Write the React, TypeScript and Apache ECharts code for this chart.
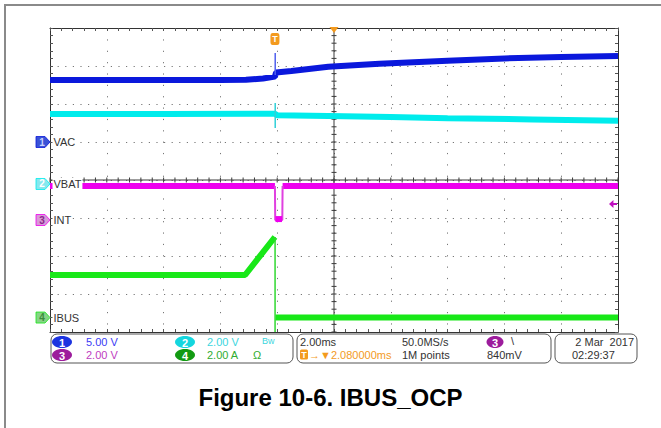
import React, { useEffect, useRef } from 'react';
import * as echarts from 'echarts';

// Time axis: 10 divisions x 2.00 ms/div, measured from the left edge of the screen (ms)
const TIME_MIN = 0;
const TIME_MAX = 20;
const TIME_DIV = 2;
const TRIGGER_T = 7.92; // trigger point (2.080000 ms before screen centre)
const CENTER_T = 10;

// Channel settings (scale per division, names)
const channelNames = ['VAC', 'VBAT', 'INT', 'IBUS'];
const channelScales = [5, 2, 2, 2]; // 5.00 V, 2.00 V, 2.00 V, 2.00 A per div
const trigLevel = 0.84; // 840 mV on channel 3

// CH1 VAC (V)
const ch1Vac: (number | string)[][] = [
  [0, 8.15], [2, 8.15], [4, 8.15], [6, 8.15], [6.9, 8.2], [7.5, 8.35], [7.92, 8.6],
  [7.96, 9.15], [8.5, 9.35], [9.8, 9.9], [11.6, 10.3], [14, 10.7], [16, 11.0], [18, 11.2], [20, 11.3],
];
const ch1Spike: number[][] = [[7.93, 8.8], [7.93, 11.7]];

// CH2 VBAT (V)
const ch2Vbat: number[][] = [
  [0, 3.68], [4, 3.68], [7.92, 3.7], [8.0, 3.62], [9.8, 3.58], [12, 3.52], [14, 3.46], [17, 3.4], [20, 3.33],
];
const ch2Spike: number[][] = [[7.93, 2.95], [7.93, 4.26]];

// CH3 INT (V)
const ch3Int: (number | string)[][] = [[0, 1.79], [7.92, 1.79], [8.0, '-'], [8.19, 1.79], [20, 1.79]];
const ch3PulseEdges: number[][] = [[7.92, 1.79], [7.93, 0], [8.18, 0], [8.19, 1.79]];
const ch3PulseLow: number[][] = [[7.94, 0.05], [8.17, 0.05]];

// CH4 IBUS (A)
const ch4Ibus: (number | string)[][] = [[0, 2.24], [6.87, 2.24], [7.92, 4.24], [7.925, '-'], [7.94, 0], [20, 0]];
const ch4Drop: number[][] = [[7.925, 4.24], [7.925, -0.76]];

// Readout texts
const readoutScales = ['5.00 V', '2.00 V', '2.00 V', '2.00 A'];
const timebaseText = '2.00ms';
const sampleRateText = '50.0MS/s';
const delayText = '→▼2.080000ms';
const pointsText = '1M points';
const trigLevelText = '840mV';
const dateText = '2 Mar  2017';
const timeText = '02:29:37';
const titleText = 'Figure 10-6. IBUS_OCP';

// Layout / styling
const GRID = { left: 50, top: 28, width: 568, height: 304 };
const groundDivs = [5, 3.895, 2.947, 0.38]; // ground marker positions, divisions from bottom
const traceColors = ['#0a18dc', '#00ecec', '#ee00ee', '#18e818'];
const markerFill = ['#3a52d6', '#86e8ee', '#d898d8', '#86d486'];
const markerText = ['#c8d2ff', '#ffffff', '#8a2a8a', '#3c8c3c'];
const badgeFill = ['#1c34e0', '#14d6de', '#9c1c9c', '#129a12'];
const readoutColors = ['#3b3bf5', '#3cd6de', '#c03cc0', '#30ac30'];
const ORANGE = '#f39a1e';
const FONT = '"Liberation Sans", Arial, sans-serif';

const pentagon = 'path://M0,0 L9,0 L14,5.5 L9,11 L0,11 Z';

// graticule: centre crosshair lines and their minor ticks (kind, position)
const graticule: number[][] = [[2, CENTER_T], [3, 4]];
for (let i = 0; i <= 50; i++) graticule.push([0, (i * TIME_DIV) / 5]);
for (let j = 0; j <= 40; j++) graticule.push([1, j / 5]);

function chAxis(i: number) {
  const s = channelScales[i];
  return {
    type: 'value', show: false, min: -groundDivs[i] * s, max: (8 - groundDivs[i]) * s,
    axisLine: { onZero: false },
  };
}

function chMarkers(i: number) {
  return [
    {
      coord: [TIME_MIN, 0], symbol: pentagon, symbolSize: [14, 11], symbolOffset: [-7, 0],
      itemStyle: { color: markerFill[i], borderColor: traceColors[i], borderWidth: 0.8 },
      label: { show: true, position: 'inside', formatter: String(i + 1), color: markerText[i], fontSize: 10, fontWeight: 'bold', fontFamily: FONT, offset: [-1, 0] },
    },
    {
      coord: [TIME_MIN, 0], symbol: 'rect', symbolSize: 1, itemStyle: { color: 'rgba(0,0,0,0)' },
      label: { show: true, position: 'right', distance: 2, formatter: channelNames[i], color: '#333', fontSize: 11, fontFamily: FONT, backgroundColor: '#fff', padding: [1, 1, 0, 1] },
    },
  ];
}

function lineSeries(name: string, data: any[], yIdx: number, color: string, width: number, extra: any = {}) {
  return {
    name, type: 'line', data, xAxisIndex: 0, yAxisIndex: yIdx, showSymbol: false, symbol: 'none',
    lineStyle: { color, width, cap: 'butt' }, silent: true, connectNulls: false, z: 3, ...extra,
  };
}

const borderAxisCommon = {
  axisLabel: { show: false },
  axisLine: { show: true, onZero: false, lineStyle: { color: '#333', width: 1 } },
  axisTick: { show: true, inside: true, length: 3, lineStyle: { color: '#555' } },
  minorTick: { show: true, splitNumber: 5, length: 3, lineStyle: { color: '#555' } },
};

export default function App() {
  const ref = useRef<HTMLDivElement>(null);
  useEffect(() => {
    if (!ref.current) return;
    const chart = echarts.init(ref.current, undefined, { renderer: 'svg' });

    const readoutText = (text: string, x: number, y: number, fill: string, extra: any = {}) => ({
      type: 'text', z: 10, style: { text, x, y, fill, fontSize: 11, fontFamily: FONT, verticalAlign: 'middle', ...extra },
    });
    const badge = (n: number, cx: number, cy: number, rx: number) => ([
      { type: 'ellipse', z: 10, shape: { cx, cy, rx, ry: 6 }, style: { fill: badgeFill[n - 1] } },
      { type: 'text', z: 11, style: { text: String(n), x: cx, y: cy + 0.5, align: 'center', verticalAlign: 'middle', fill: '#fff', fontSize: 11, fontWeight: 'bold', fontFamily: FONT } },
    ]);

    const option: any = {
      animation: false,
      backgroundColor: '#fff',
      title: {
        text: titleText, left: 'center', top: 380,
        textStyle: { fontSize: 24, fontWeight: 'bold', color: '#000', fontFamily: FONT },
      },
      grid: { ...GRID, containLabel: false },
      xAxis: [
        {
          type: 'value', min: TIME_MIN, max: TIME_MAX, interval: TIME_DIV, position: 'bottom', ...borderAxisCommon,
          splitLine: { show: true, lineStyle: { color: '#777', width: 1, type: [1.2, 10.16] } },
        },
        { type: 'value', min: TIME_MIN, max: TIME_MAX, interval: TIME_DIV, position: 'top', ...borderAxisCommon, splitLine: { show: false } },
      ],
      yAxis: [
        {
          type: 'value', min: 0, max: 8, interval: 1, position: 'left', ...borderAxisCommon,
          splitLine: { show: true, lineStyle: { color: '#777', width: 1, type: [1.2, 6.4] } },
        },
        { type: 'value', min: 0, max: 8, interval: 1, position: 'right', ...borderAxisCommon, splitLine: { show: false } },
        chAxis(0), chAxis(1), chAxis(2), chAxis(3),
      ],
      series: [
        {
          name: 'graticule', type: 'custom', xAxisIndex: 0, yAxisIndex: 0, silent: true, z: 1,
          data: graticule, encode: { x: -1, y: -1 },
          renderItem: (params: any, api: any) => {
            const kind = api.value(0);
            const pos = api.value(1);
            const st = { stroke: '#3a3a3a', lineWidth: 1 };
            if (kind === 0) {
              const p = api.coord([pos, 4]);
              return { type: 'line', shape: { x1: p[0], y1: p[1] - 2.5, x2: p[0], y2: p[1] + 2.5 }, style: st };
            }
            if (kind === 1) {
              const p = api.coord([CENTER_T, pos]);
              return { type: 'line', shape: { x1: p[0] - 2.5, y1: p[1], x2: p[0] + 2.5, y2: p[1] }, style: st };
            }
            if (kind === 2) {
              const a = api.coord([pos, 0]);
              const b = api.coord([pos, 8]);
              return { type: 'line', shape: { x1: a[0], y1: a[1], x2: b[0], y2: b[1] }, style: st };
            }
            const a = api.coord([TIME_MIN, pos]);
            const b = api.coord([TIME_MAX, pos]);
            return { type: 'line', shape: { x1: a[0], y1: a[1], x2: b[0], y2: b[1] }, style: st };
          },
        },
        lineSeries('VAC', ch1Vac, 2, traceColors[0], 6, {
          markPoint: {
            silent: true, animation: false,
            data: [
              ...chMarkers(0),
              {
                coord: [TRIGGER_T, (8 - groundDivs[0]) * channelScales[0]], symbol: 'roundRect', symbolSize: [9, 12], symbolOffset: [0, 11],
                itemStyle: { color: ORANGE },
                label: { show: true, position: 'inside', formatter: 'T', color: '#fff', fontSize: 9, fontWeight: 'bold', fontFamily: FONT },
              },
              {
                coord: [CENTER_T, (8 - groundDivs[0]) * channelScales[0]], symbol: 'path://M0,0 L10,0 L5,7 Z', symbolSize: [9, 6], symbolOffset: [0, 2],
                itemStyle: { color: ORANGE }, label: { show: false },
              },
            ],
          },
        }),
        lineSeries('VAC spike', ch1Spike, 2, '#5060ee', 1.5),
        lineSeries('VBAT', ch2Vbat, 3, traceColors[1], 6, { markPoint: { silent: true, animation: false, data: chMarkers(1) } }),
        lineSeries('VBAT spike', ch2Spike, 3, '#30d0d8', 1.5),
        lineSeries('INT', ch3Int, 4, traceColors[2], 6, {
          markPoint: {
            silent: true, animation: false,
            data: [
              ...chMarkers(2),
              {
                coord: [TIME_MAX, trigLevel], symbol: 'path://M0,4 L5,0 L5,3 L9,3 L9,5 L5,5 L5,8 Z', symbolSize: [8, 8], symbolOffset: [-5, 0],
                itemStyle: { color: '#c010c0' }, label: { show: false },
              },
            ],
          },
        }),
        lineSeries('INT pulse', ch3PulseEdges, 4, '#e040e0', 2),
        lineSeries('INT low', ch3PulseLow, 4, traceColors[2], 6),
        lineSeries('IBUS', ch4Ibus, 5, traceColors[3], 6, { markPoint: { silent: true, animation: false, data: chMarkers(3) } }),
        lineSeries('IBUS drop', ch4Drop, 5, '#30d830', 1.5),
      ],
      graphic: [
        { type: 'rect', z: 0, shape: { x: 5, y: 5, width: 700, height: 480 }, style: { fill: 'none', stroke: '#8a8a8a', lineWidth: 2 } },
        { type: 'rect', z: 9, shape: { x: 51, y: 334, width: 242, height: 29, r: 6 }, style: { fill: '#fff', stroke: '#555', lineWidth: 1 } },
        { type: 'rect', z: 9, shape: { x: 297, y: 334, width: 254, height: 29, r: 6 }, style: { fill: '#fff', stroke: '#555', lineWidth: 1 } },
        { type: 'rect', z: 9, shape: { x: 555, y: 334, width: 82, height: 29, r: 6 }, style: { fill: '#fff', stroke: '#555', lineWidth: 1 } },
        ...badge(1, 62, 342, 10),
        readoutText(readoutScales[0], 86, 342, readoutColors[0]),
        ...badge(2, 185, 342, 10),
        readoutText(readoutScales[1], 207, 342, readoutColors[1]),
        readoutText('Bw', 262, 341, readoutColors[1], { fontSize: 9 }),
        ...badge(3, 62, 355, 10),
        readoutText(readoutScales[2], 86, 355, readoutColors[2]),
        ...badge(4, 185, 355, 10),
        readoutText(readoutScales[3], 207, 355, readoutColors[3]),
        readoutText('Ω', 253, 355, readoutColors[3]),
        readoutText(timebaseText, 300, 342, '#333'),
        readoutText(sampleRateText, 402, 342, '#333'),
        { type: 'rect', z: 10, shape: { x: 300, y: 349.5, width: 8, height: 10, r: 1.5 }, style: { fill: ORANGE } },
        { type: 'text', z: 11, style: { text: 'T', x: 304, y: 355, align: 'center', verticalAlign: 'middle', fill: '#fff', fontSize: 9, fontWeight: 'bold', fontFamily: FONT } },
        readoutText(delayText, 309, 355, ORANGE),
        readoutText(pointsText, 402, 355, '#333'),
        { type: 'ellipse', z: 10, shape: { cx: 495, cy: 342, rx: 8.5, ry: 6 }, style: { fill: badgeFill[2] } },
        { type: 'text', z: 11, style: { text: '3', x: 495, y: 342.5, align: 'center', verticalAlign: 'middle', fill: '#fff', fontSize: 11, fontWeight: 'bold', fontFamily: FONT } },
        readoutText('\\', 511, 341, '#333'),
        readoutText(trigLevelText, 487, 355, '#333'),
        readoutText(dateText, 634, 342, '#333', { align: 'right' }),
        readoutText(timeText, 572, 355, '#333'),
      ],
    };
    chart.setOption(option);
    return () => chart.dispose();
  }, []);
  return <div ref={ref} style={{ position: 'absolute', left: 0, top: 0, width: 661, height: 428, background: '#fff' }} />;
}
